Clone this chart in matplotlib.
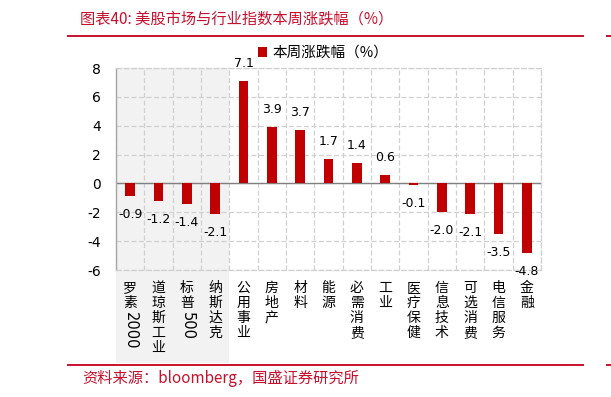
import matplotlib.pyplot as plt
from matplotlib.patches import Rectangle
from matplotlib.lines import Line2D
from matplotlib.transforms import blended_transform_factory
import numpy as np

plt.rcParams['font.family'] = ['Noto Sans CJK SC', 'DejaVu Sans']

# ---------- Data ----------
categories = ["罗素2000", "道琼斯工业", "标普500", "纳斯达克", "公用事业", "房地产", "材料",
              "能源", "必需消费", "工业", "医疗保健", "信息技术", "可选消费", "电信服务", "金融"]
changes = [-0.9, -1.2, -1.4, -2.1, 7.1, 3.9, 3.7, 1.7, 1.4, 0.6, -0.1, -2.0, -2.1, -3.5, -4.8]
n_index = 4  # first four are market indices (shaded)
yticks = [-6, -4, -2, 0, 2, 4, 6, 8]

title = "图表40: 美股市场与行业指数本周涨跌幅（%）"
source = "资料来源：bloomberg，国盛证券研究所"
legend_label = "本周涨跌幅（%）"

red = '#C00000'
text_red = '#C8102E'
grid_col = '#D0D0D0'

W, H = 611, 397
fig = plt.figure(figsize=(W / 100, H / 100), dpi=100)

def fx(px): return px / W
def fy(py): return 1 - py / H

# axes box in pixels: left 116, right 541, top 68, bottom 270
ax = fig.add_axes([fx(116), fy(270), fx(541) - fx(116), fy(68) - fy(270)])

x = np.arange(len(categories))
bars = ax.bar(x, changes, width=0.34, color=red, zorder=3, label=legend_label)

ax.set_xlim(-0.5, len(categories) - 0.5)
ax.set_ylim(-6, 8)
ax.set_yticks(yticks)
ax.set_yticklabels([str(t) for t in yticks], family='DejaVu Sans', fontsize=10)
ax.tick_params(axis='y', length=0, pad=11)
ax.set_xticks(x)
ax.set_xticklabels([])
ax.tick_params(axis='x', length=0)
ax.set_xticks(np.arange(len(categories) + 1) - 0.5, minor=True)
ax.tick_params(axis='x', which='minor', length=0)

# ---------- grid and frame ----------
ax.set_axisbelow(True)
ax.grid(axis='y', which='major', color=grid_col, linestyle=(0, (4, 2)), linewidth=0.9)
ax.grid(axis='x', which='minor', color=grid_col, linestyle=(0, (4, 2)), linewidth=0.9)
for s in ['top', 'right', 'bottom']:
    ax.spines[s].set_color(grid_col)
    ax.spines[s].set_linestyle((0, (4, 2)))
    ax.spines[s].set_linewidth(0.9)
ax.spines['left'].set_color('#A6A6A6')
ax.spines['left'].set_linewidth(1)
ax.axhline(0, color='#808080', linewidth=1, zorder=2)

# shaded block behind the index categories (runs down through the labels)
trans = blended_transform_factory(ax.transData, fig.transFigure)
ax.add_patch(Rectangle((-0.5, fy(363)), n_index, fy(68) - fy(363), transform=trans,
                       facecolor='#F2F2F2', edgecolor='none', clip_on=False, zorder=0))

# ---------- value labels ----------
for i, v in enumerate(changes):
    if v >= 0:
        ax.annotate(f"{v:.1f}", xy=(i, v), xytext=(0, 11 * 0.72), textcoords='offset points',
                    ha='center', va='bottom', fontsize=9, family='DejaVu Sans', zorder=5)
    else:
        ax.annotate(f"{v:.1f}", xy=(i, v), xytext=(0, -12 * 0.72), textcoords='offset points',
                    ha='center', va='top', fontsize=9, family='DejaVu Sans', zorder=5)

# ---------- vertical category labels ----------
for i, lab in enumerate(categories):
    tokens = []
    for ch in lab:
        if ch.isdigit() and tokens and tokens[-1].isdigit():
            tokens[-1] += ch
        else:
            tokens.append(ch)
    off = 11  # px below axes bottom
    for tok in tokens:
        if tok.isdigit():
            ax.annotate(tok, xy=(i, 0), xycoords=('data', 'axes fraction'),
                        xytext=(0, -(off + 1) * 0.72), textcoords='offset points',
                        ha='center', va='top', rotation=-90, fontsize=10.5,
                        family='DejaVu Sans', annotation_clip=False)
            off += len(tok) * 9.3
        else:
            ax.annotate(tok, xy=(i, 0), xycoords=('data', 'axes fraction'),
                        xytext=(0, -off * 0.72), textcoords='offset points',
                        ha='center', va='top', fontsize=10, annotation_clip=False)
            off += 15

# ---------- legend ----------
ax.legend(loc='center left', bbox_to_anchor=(fx(258), fy(53)), bbox_transform=fig.transFigure,
          frameon=False, fontsize=10.5, handlelength=0.65, handleheight=0.65,
          handletextpad=0.35, borderpad=0, borderaxespad=0)

# ---------- title, source, rules ----------
fig.text(fx(80), fy(19), title, color=text_red, fontsize=11, va='center', ha='left')
fig.text(fx(82), fy(378), source, color=text_red, fontsize=11, va='center', ha='left')
for yy in [35.7, 365]:
    fig.add_artist(Line2D([fx(68), fx(583)], [fy(yy), fy(yy)], color=text_red, linewidth=1.4))
    fig.add_artist(Line2D([fx(607), fx(611)], [fy(yy), fy(yy)], color=text_red, linewidth=1.4))

fig.savefig("out.png", dpi=100)
